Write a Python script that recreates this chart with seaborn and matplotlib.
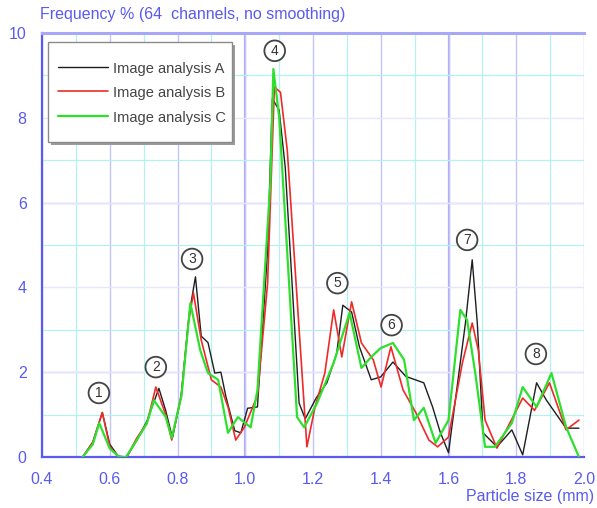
import numpy as np
import pandas as pd
import matplotlib
matplotlib.use("Agg")
import matplotlib.pyplot as plt
from matplotlib.ticker import MultipleLocator, FormatStrFormatter
from matplotlib.patches import Rectangle
import seaborn as sns

# ---------------- data ----------------
series_names = ["Image analysis A", "Image analysis B", "Image analysis C"]

x_a = [0.52, 0.55, 0.578, 0.60, 0.625, 0.65, 0.68, 0.71, 0.745, 0.765, 0.785, 0.81, 0.835,
       0.853, 0.87, 0.89, 0.91, 0.928, 0.943, 0.969, 0.987, 1.007, 1.036, 1.066, 1.08, 1.1,
       1.118, 1.159, 1.177, 1.21, 1.241, 1.27, 1.288, 1.314, 1.337, 1.372, 1.40, 1.436, 1.474,
       1.527, 1.553, 1.575, 1.60, 1.65, 1.67, 1.685, 1.702, 1.743, 1.787, 1.819, 1.86, 1.889,
       1.947, 1.985]
y_a = [0.0, 0.35, 1.05, 0.3, 0.02, 0.0, 0.4, 0.85, 1.62, 1.1, 0.45, 1.4, 3.4,
       4.25, 2.85, 2.7, 1.98, 2.0, 1.42, 0.62, 0.57, 1.15, 1.18, 4.88, 8.45, 8.18,
       6.84, 1.27, 0.9, 1.4, 1.75, 2.45, 3.58, 3.42, 2.6, 1.82, 1.89, 2.24, 1.9,
       1.75, 1.18, 0.6, 0.1, 3.16, 4.65, 3.16, 0.57, 0.24, 0.64, 0.05, 1.75, 1.34,
       0.68, 0.68]

x_b = [0.52, 0.55, 0.578, 0.60, 0.625, 0.65, 0.68, 0.71, 0.736, 0.765, 0.783, 0.812, 0.832,
       0.847, 0.87, 0.9, 0.928, 0.949, 0.972, 0.998, 1.036, 1.066, 1.086, 1.104, 1.124, 1.182,
       1.206, 1.235, 1.261, 1.285, 1.314, 1.343, 1.378, 1.401, 1.43, 1.466, 1.504, 1.542, 1.568,
       1.60, 1.641, 1.67, 1.688, 1.708, 1.743, 1.819, 1.854, 1.898, 1.947, 1.985]
y_b = [0.0, 0.35, 1.05, 0.25, 0.0, 0.0, 0.45, 0.8, 1.65, 1.0, 0.4, 1.5, 3.16,
       3.87, 2.76, 1.82, 1.65, 1.18, 0.4, 0.71, 1.45, 4.1, 8.73, 8.6, 7.24, 0.24,
       1.18, 1.98, 3.47, 2.36, 3.66, 2.69, 2.29, 1.65, 2.6, 1.58, 1.04, 0.4, 0.24,
       0.47, 2.22, 3.16, 2.52, 0.87, 0.21, 1.39, 1.1, 1.75, 0.64, 0.87]

x_c = [0.52, 0.55, 0.569, 0.60, 0.628, 0.648, 0.68, 0.71, 0.73, 0.765, 0.783, 0.812, 0.838,
       0.867, 0.89, 0.92, 0.949, 0.978, 1.016, 1.036, 1.074, 1.083, 1.1, 1.153, 1.174, 1.212,
       1.261, 1.308, 1.343, 1.372, 1.40, 1.436, 1.469, 1.498, 1.527, 1.562, 1.60, 1.635, 1.655,
       1.679, 1.708, 1.737, 1.787, 1.819, 1.86, 1.904, 1.947, 1.985]
y_c = [0.0, 0.3, 0.8, 0.2, 0.0, 0.0, 0.4, 0.8, 1.34, 0.95, 0.45, 1.45, 3.63,
       2.52, 1.98, 1.82, 0.57, 0.94, 0.7, 1.58, 6.46, 9.15, 8.02, 0.94, 0.7, 1.27,
       2.22, 3.4, 2.1, 2.36, 2.57, 2.69, 2.29, 0.87, 1.16, 0.33, 0.87, 3.47, 3.23,
       1.98, 0.24, 0.24, 0.8, 1.65, 1.18, 1.98, 0.71, 0.0]

peak_labels = ["1", "2", "3", "4", "5", "6", "7", "8"]
peak_x = [0.568, 0.736, 0.843, 1.087, 1.272, 1.432, 1.655, 1.858]
peak_y = [1.51, 2.12, 4.67, 9.58, 4.10, 3.11, 5.12, 2.43]

x_ticks = [0.4, 0.6, 0.8, 1.0, 1.2, 1.4, 1.6, 1.8, 2.0]
y_ticks = [0, 2, 4, 6, 8, 10]

# ---------------- style ----------------
sns.set_style("white")
plt.rcParams["font.family"] = ["Liberation Sans", "DejaVu Sans"]

blue = "#5a5af0"
colors = ["#1e1e1e", "#ee2a2a", "#2ee02e"]
widths = [1.0, 1.2, 1.6]

W, H = 597, 508
AX_L, AX_R, AX_T, AX_B = 42, 584, 33, 457
fig = plt.figure(figsize=(W / 100, H / 100), dpi=100)
ax = fig.add_axes([AX_L / W, (H - AX_B) / H, (AX_R - AX_L) / W, (AX_B - AX_T) / H])

def ax_frac(px, py):
    return (px - AX_L) / (AX_R - AX_L), 1 - (py - AX_T) / (AX_B - AX_T)

df = pd.concat([
    pd.DataFrame({"size": xs, "freq": ys, "series": name})
    for xs, ys, name in zip([x_a, x_b, x_c], [y_a, y_b, y_c], series_names)
])

for name, col, lw in zip(series_names, colors, widths):
    sub = df[df["series"] == name]
    sns.lineplot(data=sub, x="size", y="freq", color=col, linewidth=lw,
                 estimator=None, sort=False, ax=ax, label=name, zorder=3)

ax.set_xlim(0.4, 2.0)
ax.set_ylim(0, 10)
ax.set_xticks(x_ticks)
ax.set_yticks(y_ticks)
ax.xaxis.set_major_formatter(FormatStrFormatter("%.1f"))
ax.xaxis.set_minor_locator(MultipleLocator(0.1))
ax.yaxis.set_minor_locator(MultipleLocator(1))

# grid
ax.grid(which="minor", color="#b4f2f2", linewidth=0.9, zorder=0)
ax.grid(which="major", axis="x", color="#c4c4fa", linewidth=1.0, zorder=0)
ax.grid(which="major", axis="y", color="#e6e6fc", linewidth=1.0, zorder=0)
for xv in (1.0, 1.6):
    ax.axvline(xv, color="#aaaaf6", linewidth=1.6, zorder=0.5)
for yv in (2, 6):
    ax.axhline(yv, color="#c4c4fa", linewidth=1.0, zorder=0.5)
ax.set_axisbelow(True)

for s in ("left", "bottom"):
    ax.spines[s].set_color(blue)
    ax.spines[s].set_linewidth(1.6)
ax.spines["top"].set_color("#a8a8f4")
ax.spines["top"].set_linewidth(2.2)
ax.spines["right"].set_visible(False)

ax.tick_params(which="major", direction="out", length=5, width=1.2, color=blue,
               labelcolor=blue, labelsize=11.5, pad=6)
ax.tick_params(which="minor", direction="out", length=3, width=1.0, color=blue)
ax.tick_params(axis="x", which="both", top=False)

ax.set_xlabel("")
ax.set_ylabel("")
fig.text(40 / W, 1 - 15 / H, "Frequency % (64  channels, no smoothing)",
         color=blue, fontsize=11.5, ha="left", va="center")
fig.text(594 / W, 1 - 496 / H, "Particle size (mm)",
         color=blue, fontsize=11.5, ha="right", va="center")

# peak markers
for lab, px, py in zip(peak_labels, peak_x, peak_y):
    ax.text(px, py, lab, ha="center", va="center", fontsize=10, color="#333333",
            zorder=5,
            bbox=dict(boxstyle="circle,pad=0.24", fc="white", ec="#444444", lw=1.3))

# legend frame (box with small shadow), drawn separately
bx0, by1 = ax_frac(48, 42)
bx1, by0 = ax_frac(232, 142)
sx, sy = ax_frac(51, 45)
sx1, sy0 = ax_frac(235, 145)
ax.add_patch(Rectangle((sx, sy0), sx1 - sx, sy - sy0, transform=ax.transAxes,
                       facecolor="#9a9a9a", edgecolor="none", zorder=6))
ax.add_patch(Rectangle((bx0, by0), bx1 - bx0, by1 - by0, transform=ax.transAxes,
                       facecolor="white", edgecolor="#8a8a8a", linewidth=1.0, zorder=6.5))

lx, ly = ax_frac(58, 61)
leg = ax.legend(loc="upper left", bbox_to_anchor=(lx, ly), borderaxespad=0,
                frameon=False, fontsize=10.5, handlelength=3.4, handleheight=1.0,
                labelspacing=0.7, borderpad=0.0, handletextpad=0.4)
leg.set_zorder(7)
for t in leg.get_texts():
    t.set_color("#444444")

fig.savefig("out.png", dpi=100)
